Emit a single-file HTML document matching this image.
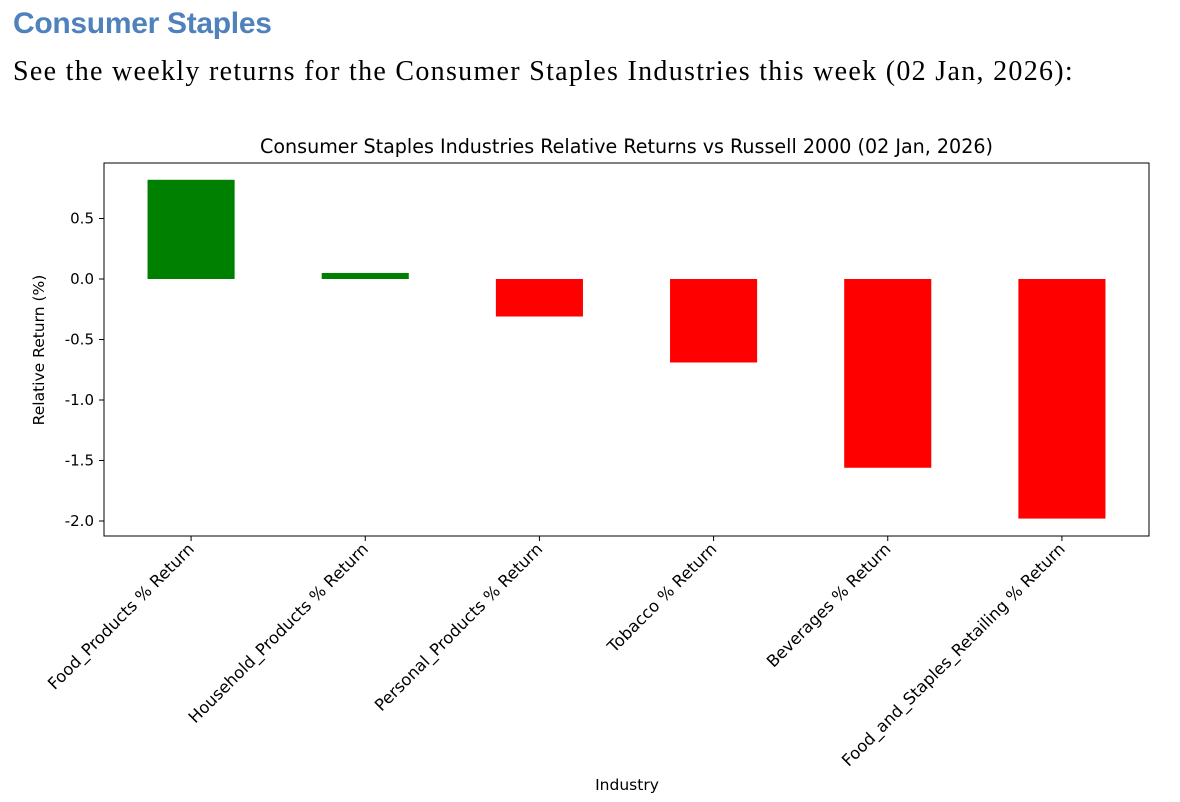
<!DOCTYPE html>
<html><head><meta charset="utf-8">
<style>
body{margin:0;width:1180px;height:802px;background:#fff;overflow:hidden;position:relative}
#h{position:absolute;left:13px;top:7px;font:bold 30px "Liberation Sans",sans-serif;color:#4f81bd;letter-spacing:-0.3px}
#s{position:absolute;left:13px;top:56px;font:28px "Liberation Serif",serif;color:#000;letter-spacing:1.3px;white-space:nowrap}
svg{position:absolute;left:0;top:0}
svg text{font-family:"DejaVu Sans","Liberation Sans",sans-serif;fill:#000}
</style></head><body>
<div id="h">Consumer Staples</div>
<div id="s">See the weekly returns for the Consumer Staples Industries this week (02 Jan, 2026):</div>
<svg id="c" width="1180" height="802"></svg>
<script>
const categories=["Food_Products % Return","Household_Products % Return","Personal_Products % Return","Tobacco % Return","Beverages % Return","Food_and_Staples_Retailing % Return"];
const values=[0.82,0.05,-0.31,-0.69,-1.56,-1.98];
const yTicks=[0.5,0.0,-0.5,-1.0,-1.5,-2.0];
const yTickLabels=["0.5","0.0","-0.5","-1.0","-1.5","-2.0"];
const svg=document.getElementById('c');const NS='http://www.w3.org/2000/svg';
const L=104,R=1149,T=163,B=536;
const y=v=>279-v*121;
const band=(R-L)/categories.length;
const x=i=>L+band*(i+0.5);
function el(t,a,p){const e=document.createElementNS(NS,t);for(const k in a)e.setAttribute(k,a[k]);(p||svg).appendChild(e);return e;}
values.forEach((v,i)=>{
 const r=el('rect',{x:x(i)-band/4,y:Math.min(y(v),y(0)),width:band/2,height:Math.abs(y(v)-y(0)),fill:v>=0?'#008000':'#ff0000'});
 
 
});
const fr=el('rect',{x:L,y:T,width:R-L,height:B-T,fill:'none',stroke:'#000','stroke-width':1});


yTicks.forEach((v,i)=>{
 el('line',{x1:L-5,x2:L,y1:y(v),y2:y(v),stroke:'#000'});
 const t=el('text',{x:L-10,y:y(v)+5,'text-anchor':'end','font-size':15});t.textContent=yTickLabels[i];
 
 
});
categories.forEach((c,i)=>{
 el('line',{x1:x(i),x2:x(i),y1:B,y2:B+5,stroke:'#000'});
 const t=el('text',{transform:`translate(${x(i)+4},${B+14}) rotate(-45)`,'text-anchor':'end','font-size':16.4});t.textContent=c;
 
 
});
let t=el('text',{x:(L+R)/2,y:153,'text-anchor':'middle','font-size':19.1});t.textContent='Consumer Staples Industries Relative Returns vs Russell 2000 (02 Jan, 2026)';


t=el('text',{transform:'translate(44,350) rotate(-90)','text-anchor':'middle','font-size':15.5});t.textContent='Relative Return (%)';


t=el('text',{x:627,y:790,'text-anchor':'middle','font-size':15.5});t.textContent='Industry';


</script>
</body></html>
